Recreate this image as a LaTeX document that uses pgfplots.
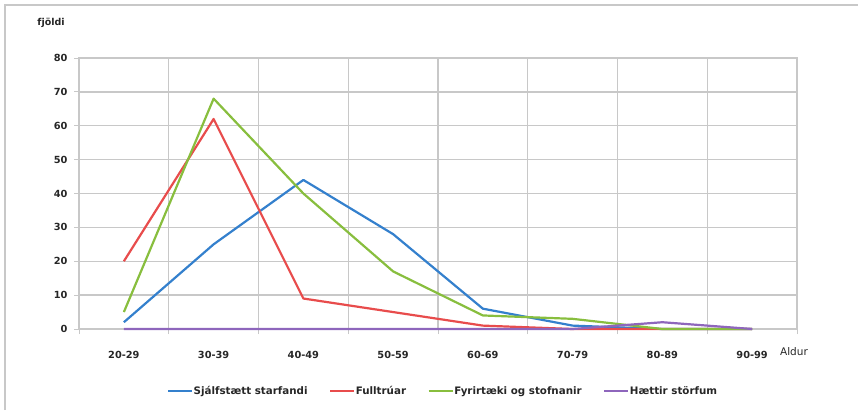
\documentclass[border=0pt]{standalone}
\usepackage{pgfplots}
\pgfplotsset{compat=1.18}
\usepackage{fontspec}
\setmainfont{DejaVu Sans}
\definecolor{sblue}{RGB}{52,128,205}
\definecolor{sred}{RGB}{232,76,76}
\definecolor{sgreen}{RGB}{136,190,62}
\definecolor{spurple}{RGB}{142,102,188}
\definecolor{gridc}{RGB}{200,200,200}
\begin{document}
\begin{tikzpicture}[x=1pt,y=1pt]
\useasboundingbox (0,0) rectangle (858,410);
\draw[gridc, line width=1.8pt] (5,0) -- (5,405) -- (858,405);
\begin{axis}[
  at={(79pt,81pt)}, anchor=south west,
  scale only axis, width=718pt, height=271pt,
  xmin=-0.5, xmax=7.5, ymin=0, ymax=80,
  /pgf/number format/assume math mode=true,
  xtick={0,...,7},
  xticklabels={20-29,30-39,40-49,50-59,60-69,70-79,80-89,90-99},
  major x tick style={draw=none},
  minor xtick={-0.5,0.5,1.5,2.5,3.5,4.5,5.5,6.5,7.5},
  xminorgrids=true,
  ytick={0,10,...,80},
  ymajorgrids=true,
  tick pos=left,
  tick align=outside,
  major tick length=5pt, minor tick length=5pt,
  every tick/.style={gridc, line width=1pt},
  grid style={gridc, line width=1.3pt},
  minor grid style={gridc, line width=1.3pt},
  axis line style={gridc, line width=1.3pt},
  tick label style={font=\fontsize{9.8}{12}\selectfont\bfseries, text=black!85},
  xticklabel style={yshift=-14pt},
  yticklabel style={xshift=-3pt},
  legend columns=4,
  legend style={draw=none, fill=none, at={(0.506,-0.229)}, anchor=center,
    font=\fontsize{10.3}{12}\selectfont\bfseries, text=black!85,
    /tikz/every even column/.append style={column sep=21pt},
    nodes={inner sep=0.5pt}},
  legend image code/.code={\draw[#1] (0pt,0pt) -- (24pt,0pt);},
  clip=false,
  every axis plot/.append style={line width=2.2pt, line join=round},
]
\addplot[sblue] coordinates {(0,2) (1,25) (2,44) (3,28) (4,6) (5,1) (6,0) (7,0)};
\addplot[sred] coordinates {(0,20) (1,62) (2,9) (3,5) (4,1) (5,0) (6,0) (7,0)};
\addplot[sgreen] coordinates {(0,5) (1,68) (2,40) (3,17) (4,4) (5,3) (6,0) (7,0)};
\addplot[spurple] coordinates {(0,0) (1,0) (2,0) (3,0) (4,0) (5,0) (6,2) (7,0)};
\legend{Sjálfstætt starfandi, Fulltrúar, Fyrirtæki og stofnanir, Hættir störfum}
\end{axis}
\node[font=\fontsize{9.5}{12}\selectfont\bfseries, text=black!85] at (51,387) {fjöldi};
\node[font=\fontsize{10.5}{12}\selectfont, text=black!85] at (794,58) {Aldur};
\end{tikzpicture}
\end{document}
